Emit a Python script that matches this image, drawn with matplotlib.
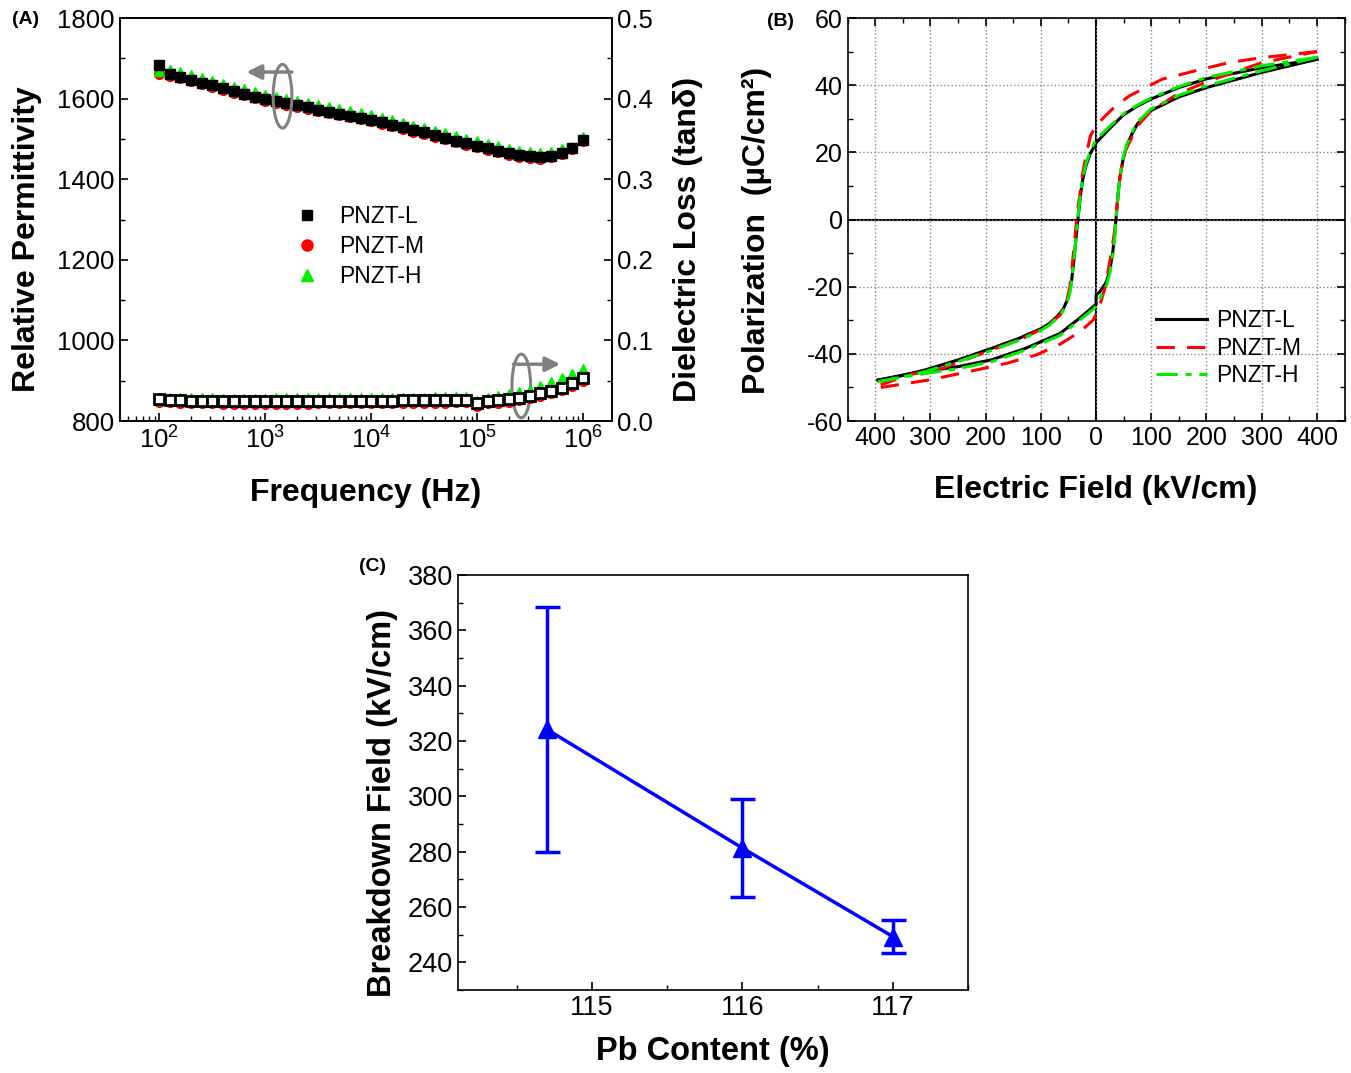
import matplotlib
matplotlib.use('Agg')
import matplotlib.pyplot as plt
from matplotlib.patches import Ellipse
from matplotlib.ticker import MultipleLocator, FuncFormatter, LogLocator, NullFormatter

plt.rcParams['font.family'] = ['Liberation Sans', 'DejaVu Sans']
plt.rcParams['axes.unicode_minus'] = False
plt.rcParams['xtick.direction'] = 'in'
plt.rcParams['ytick.direction'] = 'in'
plt.rcParams['axes.linewidth'] = 1.2

# ---- (A) dielectric spectra ----
freq = [1.00e2, 1.26e2, 1.58e2, 2.00e2, 2.51e2, 3.16e2, 3.98e2, 5.01e2, 6.31e2, 7.94e2,
        1.00e3, 1.26e3, 1.58e3, 2.00e3, 2.51e3, 3.16e3, 3.98e3, 5.01e3, 6.31e3, 7.94e3,
        1.00e4, 1.26e4, 1.58e4, 2.00e4, 2.51e4, 3.16e4, 3.98e4, 5.01e4, 6.31e4, 7.94e4,
        1.00e5, 1.26e5, 1.58e5, 2.00e5, 2.51e5, 3.16e5, 3.98e5, 5.01e5, 6.31e5, 7.94e5,
        1.00e6]
perm_L = [1683, 1661, 1654, 1647, 1640, 1633, 1626, 1619, 1612, 1605,
          1598, 1593, 1588, 1583, 1578, 1573, 1568, 1563, 1558, 1553,
          1548, 1542, 1535, 1529, 1522, 1516, 1509, 1503, 1496, 1490,
          1483, 1477, 1471, 1465, 1460, 1457, 1455, 1458, 1466, 1477, 1497]
perm_M = [1662, 1656, 1650, 1643, 1636, 1629, 1622, 1615, 1608, 1601,
          1594, 1589, 1584, 1579, 1574, 1569, 1564, 1559, 1554, 1549,
          1544, 1538, 1531, 1525, 1518, 1512, 1505, 1499, 1492, 1486,
          1479, 1473, 1467, 1461, 1456, 1453, 1451, 1454, 1462, 1474, 1496]
perm_H = [1668, 1672, 1665, 1658, 1651, 1644, 1637, 1630, 1623, 1616,
          1609, 1604, 1599, 1594, 1589, 1584, 1579, 1574, 1569, 1564,
          1559, 1553, 1546, 1540, 1533, 1527, 1520, 1514, 1507, 1501,
          1494, 1488, 1482, 1476, 1471, 1468, 1466, 1468, 1474, 1480, 1504]
loss_L = [0.0275, 0.0262, 0.0256, 0.0252, 0.0250, 0.0248, 0.0247, 0.0246, 0.0246, 0.0246,
          0.0246, 0.0246, 0.0246, 0.0247, 0.0247, 0.0248, 0.0248, 0.0249, 0.0250, 0.0251,
          0.0252, 0.0253, 0.0254, 0.0255, 0.0256, 0.0257, 0.0259, 0.0260, 0.0262, 0.0265,
          0.0228, 0.0250, 0.0258, 0.0270, 0.0290, 0.0315, 0.0345, 0.0370, 0.0410, 0.0468, 0.0528]
loss_M = [0.0240, 0.0232, 0.0226, 0.0222, 0.0220, 0.0218, 0.0217, 0.0216, 0.0216, 0.0216,
          0.0216, 0.0216, 0.0216, 0.0217, 0.0217, 0.0218, 0.0218, 0.0219, 0.0220, 0.0221,
          0.0222, 0.0223, 0.0224, 0.0225, 0.0226, 0.0227, 0.0229, 0.0230, 0.0232, 0.0235,
          0.0190, 0.0220, 0.0228, 0.0240, 0.0260, 0.0285, 0.0315, 0.0345, 0.0385, 0.0440, 0.0500]
loss_H = [0.0255, 0.0290, 0.0286, 0.0283, 0.0281, 0.0280, 0.0279, 0.0279, 0.0279, 0.0279,
          0.0279, 0.0280, 0.0280, 0.0281, 0.0281, 0.0282, 0.0282, 0.0283, 0.0284, 0.0285,
          0.0286, 0.0287, 0.0288, 0.0289, 0.0290, 0.0291, 0.0293, 0.0294, 0.0296, 0.0299,
          0.0250, 0.0290, 0.0310, 0.0340, 0.0360, 0.0390, 0.0440, 0.0485, 0.0530, 0.0580, 0.0640]

# ---- (B) P-E loops: descending (up) and ascending (dn) branches ----
E_L_up = [400, 300, 200, 150, 100, 75, 50, 25, 0, -10, -18, -24, -28, -31, -33, -36, -39, -42,
          -45, -48, -53, -60, -70, -85, -100, -140, -190, -250, -310, -360, -395]
P_L_up = [47.7, 45.2, 41.9, 39.3, 35.9, 33.8, 31.2, 27.2, 22.8, 19.8, 16.2, 12.0, 7.5, 3.0, 0.0,
          -5.0, -10.0, -15.0, -19.0, -21.5, -24.3, -26.8, -28.8, -31.0, -32.5, -35.4, -38.4,
          -41.8, -44.8, -46.8, -47.8]
E_L_dn = [-395, -340, -250, -190, -130, -65, -30, -5, 0, 0, 7, 19, 25, 30, 34, 37, 40, 44, 49,
          56, 65, 75, 100, 150, 200, 300, 400]
P_L_dn = [-47.8, -46.0, -43.8, -41.8, -38.5, -33.9, -29.4, -25.9, -25.3, -22.5, -21.5, -18.5,
          -15.0, -10.0, -4.0, 2.0, 8.0, 13.5, 18.0, 22.0, 25.5, 28.5, 32.5, 36.5, 39.3, 43.8, 47.7]
E_M_up = [400, 300, 240, 180, 120, 60, 30, 14, 0, -10, -17, -24, -29, -34, -38, -42, -47, -53,
          -65, -90, -138, -181, -229, -278, -332, -360, -390]
P_M_up = [50.0, 48.2, 46.7, 44.3, 41.8, 36.8, 33.0, 30.4, 27.9, 25.0, 20.0, 14.0, 8.0, 2.0,
          -4.8, -11.7, -19.6, -24.5, -28.4, -31.9, -35.8, -38.3, -41.3, -44.3, -46.0, -47.5, -49.2]
E_M_dn = [-390, -300, -217, -162, -108, -65, -29, -5, 7, 15, 21, 28, 34, 38, 44, 53, 75, 100,
          147, 200, 300, 400]
P_M_dn = [-50.0, -47.7, -44.8, -42.8, -40.3, -37.1, -33.4, -29.9, -25.4, -21.0, -16.0, -9.5,
          -3.0, 4.0, 13.5, 20.5, 27.9, 32.4, 37.3, 41.0, 46.7, 50.0]
E_H_up = [400, 300, 200, 150, 100, 75, 50, 25, 0, -10, -18, -24, -28, -31, -33, -36, -39, -42,
          -45, -48, -53, -60, -70, -85, -100, -140, -190, -250, -310, -360, -395]
P_H_up = [48.3, 45.8, 42.3, 39.6, 36.2, 34.1, 31.5, 27.8, 23.8, 20.5, 16.8, 12.5, 8.0, 3.5, 0.3,
          -5.0, -10.0, -15.0, -19.5, -22.2, -25.0, -27.3, -29.3, -31.5, -33.0, -36.0, -39.0,
          -42.3, -45.3, -47.2, -48.3]
E_H_dn = [-395, -340, -250, -190, -130, -65, -30, -5, 0, 7, 19, 25, 30, 34, 37, 40, 44, 49, 56,
          65, 75, 100, 150, 200, 300, 400]
P_H_dn = [-48.3, -46.6, -44.4, -42.4, -39.0, -34.5, -30.0, -26.7, -25.8, -23.5, -19.5, -16.0,
          -11.0, -5.0, 1.5, 7.5, 13.5, 18.5, 22.5, 26.0, 29.0, 33.0, 37.0, 39.8, 44.3, 48.3]

# ---- (C) breakdown field ----
pb = [114.7, 116.0, 117.0]
ebd = [324.2, 281.3, 249.3]
ebd_err = [44.2, 17.6, 6.1]

labels = ['PNZT-L', 'PNZT-M', 'PNZT-H']
LABEL_FS = 23
TICK_FS = 18.5

fig = plt.figure(figsize=(13.51, 10.73), dpi=100)


def style_ticks(ax, size=TICK_FS):
    ax.tick_params(which='major', length=6, width=1.2, labelsize=size)
    ax.tick_params(which='minor', length=3.5, width=1.0)


# ---------- panel A ----------
axA = fig.add_axes([0.0885, 0.6076, 0.3644, 0.3756])
axA.plot(freq, perm_M, 'o', color='red', ms=7, mec='red', zorder=2)
axA.plot(freq, perm_H, '^', color='#00ee00', ms=7.5, mec='#00ee00', zorder=2)
axA.plot(freq, perm_L, 's', color='black', ms=7, zorder=3)
axA.set_xscale('log')
axA.set_xlim(42, 1.88e6)
axA.set_ylim(800, 1800)
axA.yaxis.set_major_locator(MultipleLocator(200))
axA.yaxis.set_minor_locator(MultipleLocator(100))
axA.xaxis.set_major_locator(LogLocator(base=10, numticks=10))
axA.xaxis.set_minor_locator(LogLocator(base=10, subs=range(2, 10), numticks=20))
axA.xaxis.set_minor_formatter(NullFormatter())
style_ticks(axA)
axA.tick_params(axis='x', which='both', top=False)
axA.set_xlabel('Frequency (Hz)', fontsize=LABEL_FS, fontweight='bold', labelpad=18)
axA.set_ylabel('Relative Permittivity', fontsize=LABEL_FS, fontweight='bold')
axA.yaxis.set_label_coords(-0.157, 0.45)

axA2 = axA.twinx()
axA2.plot(freq, loss_M, 'o', color='red', ms=7, mec='red', zorder=2)
axA2.plot(freq, loss_H, '^', color='#00ee00', ms=7.5, mec='#00ee00', zorder=2)
axA2.plot(freq, loss_L, 's', mfc='white', mec='black', mew=2, ms=7, zorder=3)
axA2.set_ylim(0, 0.5)
axA2.yaxis.set_major_locator(MultipleLocator(0.1))
axA2.yaxis.set_minor_locator(MultipleLocator(0.05))
axA2.yaxis.set_major_formatter(FuncFormatter(lambda v, p: f'{v:.1f}'))
style_ticks(axA2)
axA2.set_ylabel('Dielectric Loss (tan\u03b4)', fontsize=LABEL_FS, fontweight='bold')
axA2.yaxis.set_label_coords(1.124, 0.45)

hA = [plt.Line2D([], [], ls='none', marker='s', color='black', ms=7),
      plt.Line2D([], [], ls='none', marker='o', color='red', ms=8),
      plt.Line2D([], [], ls='none', marker='^', color='#00ee00', ms=9)]
axA.legend(hA, labels, loc='upper left', bbox_to_anchor=(0.31, 0.565), frameon=False,
           fontsize=16.5, handletextpad=0.4, labelspacing=0.3, borderpad=0)

# grey ellipses with arrows
for (cx, cy), (ax0, ax1, ay) in [((0.331, 0.806), (0.35, 0.258, 0.866)),
                                 ((0.816, 0.087), (0.80, 0.895, 0.141))]:
    axA.add_patch(Ellipse((cx, cy), 0.038, 0.158, transform=axA.transAxes, fill=False,
                          ec='#808080', lw=2.2, zorder=5))
    axA.annotate('', xy=(ax1, ay), xytext=(ax0, ay), xycoords='axes fraction',
                 arrowprops=dict(arrowstyle='-|>', color='#808080', lw=2.5, mutation_scale=22,
                                 shrinkA=0, shrinkB=0))

# ---------- panel B ----------
axB = fig.add_axes([0.6274, 0.6076, 0.3678, 0.3756])
lL, = axB.plot(E_L_up, P_L_up, '-', color='black', lw=2.2)
axB.plot(E_L_dn, P_L_dn, '-', color='black', lw=2.2)
lM, = axB.plot(E_M_up, P_M_up, '--', color='red', lw=2.2, dashes=(6, 4))
axB.plot(E_M_dn, P_M_dn, '--', color='red', lw=2.2, dashes=(6, 4))
lH, = axB.plot(E_H_up, P_H_up, '-.', color='#00ee00', lw=2.2, dashes=(7, 2.5, 2, 2.5))
axB.plot(E_H_dn, P_H_dn, '-.', color='#00ee00', lw=2.2, dashes=(7, 2.5, 2, 2.5))
axB.axhline(0, color='black', lw=1.5, zorder=1)
axB.axvline(0, color='black', lw=1.5, zorder=1)
axB.set_xlim(-450, 450)
axB.set_ylim(-60, 60)
axB.xaxis.set_major_locator(MultipleLocator(100))
axB.xaxis.set_minor_locator(MultipleLocator(50))
axB.yaxis.set_major_locator(MultipleLocator(20))
axB.yaxis.set_minor_locator(MultipleLocator(10))
axB.xaxis.set_major_formatter(FuncFormatter(lambda v, p: f'{abs(v):.0f}'))
axB.grid(True, which='major', ls=':', color='#888888', lw=1.0)
style_ticks(axB, 18)
axB.tick_params(which='both', right=True, top=True)
axB.set_xlabel('Electric Field (kV/cm)', fontsize=LABEL_FS, fontweight='bold', labelpad=18)
axB.set_ylabel('Polarization  (\u00b5C/cm\u00b2)', fontsize=LABEL_FS, fontweight='bold')
axB.yaxis.set_label_coords(-0.153, 0.472)
axB.legend([lL, lM, lH], labels, loc='lower right', bbox_to_anchor=(0.935, 0.055), frameon=False,
           fontsize=16.5, handlelength=2.2, handletextpad=0.4, labelspacing=0.2, borderpad=0)

# ---------- panel C ----------
axC = fig.add_axes([0.339, 0.0774, 0.3775, 0.3868])
axC.errorbar(pb, ebd, yerr=ebd_err, color='blue', lw=2.5, marker='^', ms=13,
             capsize=9, capthick=2.5, elinewidth=2.5)
axC.set_xlim(114.11, 117.5)
axC.set_ylim(230, 380)
axC.xaxis.set_major_locator(MultipleLocator(1))
axC.xaxis.set_minor_locator(MultipleLocator(0.5))
axC.yaxis.set_major_locator(MultipleLocator(20))
axC.yaxis.set_minor_locator(MultipleLocator(10))
style_ticks(axC, 19.5)
axC.tick_params(which='both', top=False, right=False)
axC.set_xlabel('Pb Content (%)', fontsize=LABEL_FS + 0.5, fontweight='bold', labelpad=11)
axC.set_ylabel('Breakdown Field (kV/cm)', fontsize=LABEL_FS + 0.5, fontweight='bold')
axC.yaxis.set_label_coords(-0.118, 0.45)

# panel letters
fig.text(0.009, 0.982, '(A)', fontsize=14, fontweight='bold', va='center')
fig.text(0.568, 0.980, '(B)', fontsize=14, fontweight='bold', va='center')
fig.text(0.266, 0.472, '(C)', fontsize=14, fontweight='bold', va='center')

fig.savefig('out.png', dpi=100)
